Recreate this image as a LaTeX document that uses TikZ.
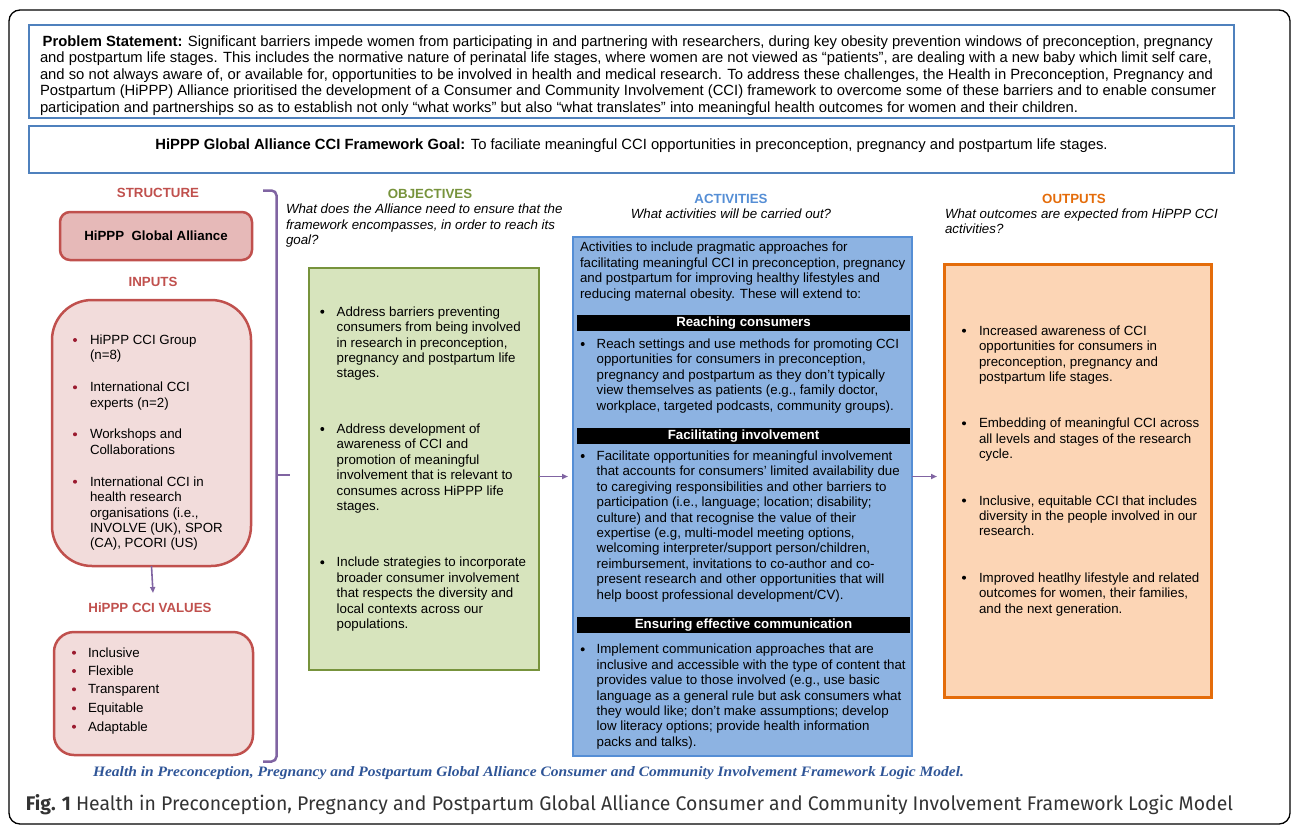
\documentclass[tikz,border=0pt]{standalone}
\usepackage{fontspec}
\setmainfont{Liberation Sans}
\newfontfamily\figfont{Fira Sans}
\newfontfamily\capfont{Liberation Serif}
\usetikzlibrary{arrows.meta}
\definecolor{bluebd}{HTML}{4F81BD}
\definecolor{redc}{HTML}{C0504D}
\definecolor{redfillA}{HTML}{E6B9B8}
\definecolor{redfillB}{HTML}{F2DCDB}
\definecolor{purp}{HTML}{8064A2}
\definecolor{grnbd}{HTML}{77933C}
\definecolor{grnfill}{HTML}{D7E4BD}
\definecolor{actfill}{HTML}{8DB3E2}
\definecolor{actbd}{HTML}{558ED5}
\definecolor{orgbd}{HTML}{E46C0A}
\definecolor{orgfill}{HTML}{FCD5B5}
\definecolor{capblue}{HTML}{2F5597}
\definecolor{bulred}{HTML}{9B1B30}
\definecolor{figgray}{HTML}{333333}
\newcommand\body{\fontsize{13.3}{15.4}\selectfont}
\newcommand\ml[1]{\begin{tabular}[t]{@{}l@{}}#1\end{tabular}}
\newcommand\bitem[7]{\fill[#1] (#2,#4) circle[radius=#6]; \node[txt] (#5) at (#3,#4+4.5) {\ml{#7}};}
\begin{document}
\begin{tikzpicture}[x=1pt,y=-1pt,
  every node/.style={inner sep=0pt, outer sep=0pt},
  txt/.style={anchor=base west, font=\body},
  hd/.style={anchor=base, font=\body\bfseries},
  sub/.style={anchor=base west, font=\body\itshape},
  bar/.style={fill=black, text=white, font=\body\bfseries, minimum width=333pt, minimum height=15.5pt},
  arr/.style={draw=purp, line width=1.6pt, -{Triangle[length=6pt,width=5pt]}}]
\useasboundingbox (0,0) rectangle (1292,827);
% outer frame
\draw[line width=1.3pt, rounded corners=11pt] (9,10) rectangle (1290,824);
% problem statement
\node[draw=bluebd, line width=2.5pt, minimum width=1205pt, minimum height=93pt, anchor=north west] (prob) at (29,25) {};
\node[anchor=base west, font=\fontsize{14.8}{16.6}\selectfont] (probtxt) at (40,46)
{\ml{\hspace*{2.7pt}\textbf{Problem Statement:} Significant barriers impede women from participating in and partnering with researchers, during key obesity prevention windows of preconception, pregnancy\\
and postpartum life stages. This includes the normative nature of perinatal life stages, where women are not viewed as “patients”, are dealing with a new baby which limit self care,\\
and so not always aware of, or available for, opportunities to be involved in health and medical research. To address these challenges, the Health in Preconception, Pregnancy and\\
Postpartum (HiPPP) Alliance prioritised the development of a Consumer and Community Involvement (CCI) framework to overcome some of these barriers and to enable consumer\\
participation and partnerships so as to establish not only “what works” but also “what translates” into meaningful health outcomes for women and their children.}};
% goal
\node[draw=bluebd, line width=2.5pt, minimum width=1205pt, minimum height=47pt, anchor=north west] (goal) at (29,126) {};
\node[anchor=base, font=\fontsize{14.8}{16.4}\selectfont] (goaltxt) at (631.5,149)
{\textbf{HiPPP Global Alliance CCI Framework Goal:} To faciliate meaningful CCI opportunities in preconception, pregnancy and postpartum life stages.};
% structure column
\node[hd, text=redc] (structhd) at (158,197) {STRUCTURE};
\node[draw=redc, fill=redfillA, line width=2.5pt, rounded corners=10pt, minimum width=192pt, minimum height=48pt, anchor=north west, font=\body\bfseries] (alliance) at (60,212) {HiPPP\ \ Global Alliance};
\node[hd, text=redc] (inphd) at (153,286.5) {INPUTS};
\node[draw=redc, fill=redfillB, line width=2.5pt, rounded corners=40pt, minimum width=199pt, minimum height=266pt, anchor=north west] (inp) at (52,300) {};
\bitem{bulred}{75}{90}{340}{ia}{2pt}{HiPPP CCI Group\\(n=8)}
\bitem{bulred}{75}{90}{387.3}{ib}{2pt}{International CCI\\experts (n=2)}
\bitem{bulred}{75}{90}{434.3}{ic}{2pt}{Workshops and\\Collaborations}
\bitem{bulred}{75}{90}{481.7}{id}{2pt}{International CCI in\\health research\\organisations (i.e.,\\INVOLVE (UK), SPOR\\(CA), PCORI (US)}
\node[hd, text=redc] (valhd) at (150,612) {HiPPP CCI VALUES};
\draw[arr] (inp.south) -- (153,593);
\node[draw=redc, fill=redfillB, line width=2.5pt, rounded corners=20pt, minimum width=199pt, minimum height=123pt, anchor=north west] (vals) at (54,632) {};
\bitem{bulred}{74}{88}{652.7}{va}{2pt}{Inclusive}
\bitem{bulred}{74}{88}{671}{vb}{2pt}{Flexible}
\bitem{bulred}{74}{88}{689.3}{vc}{2pt}{Transparent}
\bitem{bulred}{74}{88}{708.3}{vd}{2pt}{Equitable}
\bitem{bulred}{74}{88}{726.7}{ve}{2pt}{Adaptable}
% brace
\draw[purp, line width=2.5pt, rounded corners=5pt] (263,190.5) -- (276.5,190.5) -- (276.5,761.5) -- (263,761.5);
\draw[purp, line width=2.5pt] (276.5,475) -- (290,475);
% objectives
\node[hd, text=grnbd] (objhd) at (430,198.5) {OBJECTIVES};
\node[sub] (objsub) at (286,213.8) {\ml{What does the Alliance need to ensure that the\\framework encompasses, in order to reach its\\goal?}};
\node[draw=grnbd, fill=grnfill, line width=2.5pt, minimum width=230pt, minimum height=402pt, anchor=north west] (obj) at (309,268) {};
\bitem{black}{322.3}{336.7}{311.7}{oa}{2pt}{Address barriers preventing\\consumers from being involved\\in research in preconception,\\pregnancy and postpartum life\\stages.}
\bitem{black}{322.3}{336.7}{429}{ob}{2pt}{Address development of\\awareness of CCI and\\promotion of meaningful\\involvement that is relevant to\\consumes across HiPPP life\\stages.}
\bitem{black}{322.3}{336.7}{562.3}{oc}{2pt}{Include strategies to incorporate\\broader consumer involvement\\that respects the diversity and\\local contexts across our\\populations.}
% activities
\node[hd, text=actbd] (acthd) at (731,203) {ACTIVITIES};
\node[anchor=base, font=\body\itshape] (actsub) at (731,218.5) {What activities will be carried out?};
\node[draw=actbd, fill=actfill, line width=2.5pt, minimum width=339pt, minimum height=519pt, anchor=north west] (act) at (573,237) {};
\node[txt] (actintro) at (580,251.8) {\ml{Activities to include pragmatic approaches for\\facilitating meaningful CCI in preconception, pregnancy\\and postpartum for improving healthy lifestyles and\\reducing maternal obesity. These will extend to:}};
\node[bar] (bara) at (743.5,323) {Reaching consumers};
\bitem{black}{582.7}{596.7}{344}{aa}{2pt}{Reach settings and use methods for promoting CCI\\opportunities for consumers in preconception,\\pregnancy and postpartum as they don’t typically\\view themselves as patients (e.g., family doctor,\\workplace, targeted podcasts, community groups).}
\node[bar] (barb) at (743.5,436) {Facilitating involvement};
\bitem{black}{582.7}{596.7}{456}{ab}{2pt}{Facilitate opportunities for meaningful involvement\\that accounts for consumers’ limited availability due\\to caregiving responsibilities and other barriers to\\participation (i.e., language; location; disability;\\culture) and that recognise the value of their\\expertise (e.g, multi-model meeting options,\\welcoming interpreter/support person/children,\\reimbursement, invitations to co-author and co-\\present research and other opportunities that will\\help boost professional development/CV).}
\node[bar] (barc) at (743.5,625) {Ensuring effective communication};
\bitem{black}{582.7}{596.7}{649.3}{ac}{2pt}{Implement communication approaches that are\\inclusive and accessible with the type of content that\\provides value to those involved (e.g., use basic\\language as a general rule but ask consumers what\\they would like; don’t make assumptions; develop\\low literacy options; provide health information\\packs and talks).}
% outputs
\node[hd, text=orgbd] (outhd) at (1074,203.5) {OUTPUTS};
\node[sub] (outsub) at (945,218.5) {\ml{What outcomes are expected from HiPPP CCI\\activities?}};
\node[draw=orgbd, fill=orgfill, line width=3pt, minimum width=267pt, minimum height=433pt, anchor=north west] (out) at (944,264) {};
\bitem{black}{964}{979}{330.7}{ua}{2pt}{Increased awareness of CCI\\opportunities for consumers in\\preconception, pregnancy and\\postpartum life stages.}
\bitem{black}{964}{979}{423.3}{ub}{2pt}{Embedding of meaningful CCI across\\all levels and stages of the research\\cycle.}
\bitem{black}{964}{979}{500.5}{uc}{2pt}{Inclusive, equitable CCI that includes\\diversity in the people involved in our\\research.}
\bitem{black}{964}{979}{577.7}{ud}{2pt}{Improved heatlhy lifestyle and related\\outcomes for women, their families,\\and the next generation.}
% arrows between columns
\coordinate (ay) at (0,476.5);
\draw[arr, shorten >=5pt] (obj.east |- ay) -- (act.west |- ay);
\draw[arr, shorten >=7pt] (act.east |- ay) -- (out.west |- ay);
% captions
\node[anchor=base west, text=capblue] (bluecap) at (93,776)
{\resizebox{871pt}{10pt}{\capfont\bfseries\itshape Health in Preconception, Pregnancy and Postpartum Global Alliance Consumer and Community Involvement Framework Logic Model.}};
\node[anchor=base west, text=figgray] (figcap) at (26,810.5)
{\resizebox{1207pt}{16pt}{\figfont\textbf{Fig. 1} Health in Preconception, Pregnancy and Postpartum Global Alliance Consumer and Community Involvement Framework Logic Model}};
\end{tikzpicture}
\end{document}
